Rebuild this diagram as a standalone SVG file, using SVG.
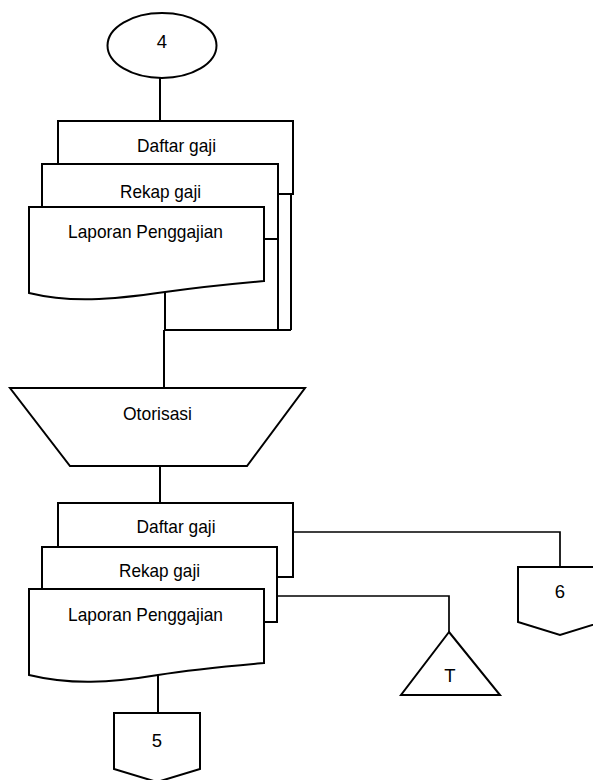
<svg xmlns="http://www.w3.org/2000/svg" width="593" height="780" viewBox="0 0 593 780">
<style>
.s{fill:#fff;stroke:#000;stroke-width:2;stroke-linejoin:miter}
.l{fill:none;stroke:#000;stroke-width:2}
.t{font-family:"Liberation Sans",Arial,sans-serif;font-size:18.5px;fill:#000;text-anchor:middle}
</style>
<rect width="593" height="780" fill="#fff"/>
<g id="connectors">
<path class="l" d="M160,78 V121"/>
<path class="l" d="M291,194 V330 M278,239 V330 M165,292 V330 H291"/>
<path class="l" d="M164,330 V388"/>
<path class="l" d="M160,466 V503"/>
<path class="l" d="M293,532 H560 V567" style="stroke-width:1.7"/>
<path class="l" d="M277,596 H449 V632" style="stroke-width:1.7"/>
<path class="l" d="M158,675 V713"/>
</g>
<g id="start4">
<ellipse class="s" cx="162" cy="45.5" rx="54.5" ry="32.5"/>
<text class="t" x="162" y="48">4</text>
</g>
<g id="stack1">
<g id="doc1-daftar">
<path class="l" d="M58,164 V121 H293 V194 H278"/>
<text class="t" x="176.5" y="152" textLength="79" lengthAdjust="spacingAndGlyphs">Daftar gaji</text>
</g>
<g id="doc1-rekap">
<path class="l" d="M42,207 V164 H278 V239 H264"/>
<text class="t" x="160.5" y="198" textLength="81" lengthAdjust="spacingAndGlyphs">Rekap gaji</text>
</g>
<g id="doc1-laporan">
<path class="s" d="M29,207 H264 V281 C230,284 200,287 165,292 C110,300 70,303 29,293 Z"/>
<text class="t" x="145.5" y="238" textLength="155" lengthAdjust="spacingAndGlyphs">Laporan Penggajian</text>
</g>
</g>
<g id="otorisasi">
<path class="s" d="M10,388 H305 L247,466 H70 Z"/>
<text class="t" x="157.5" y="420" textLength="69" lengthAdjust="spacingAndGlyphs">Otorisasi</text>
</g>
<g id="stack2">
<g id="doc2-daftar">
<path class="l" d="M58,547 V503 H293 V577 H278"/>
<text class="t" x="176" y="533" textLength="79" lengthAdjust="spacingAndGlyphs">Daftar gaji</text>
</g>
<g id="doc2-rekap">
<path class="l" d="M42,589 V547 H277 V622 H264"/>
<text class="t" x="159.5" y="577" textLength="81" lengthAdjust="spacingAndGlyphs">Rekap gaji</text>
</g>
<g id="doc2-laporan">
<path class="s" d="M29,589 H264 V663 C230,666 195,669 158,675 C110,683 70,685 29,675 Z"/>
<text class="t" x="145.5" y="621" textLength="155" lengthAdjust="spacingAndGlyphs">Laporan Penggajian</text>
</g>
</g>
<g id="offpage5">
<path class="s" d="M114,713 H200 V769 L157,782 L114,769 Z"/>
<text class="t" x="157" y="747">5</text>
</g>
<g id="offpage6">
<path class="s" d="M518,567 H602 V622 L560,635 L518,622 Z"/>
<text class="t" x="560" y="598">6</text>
</g>
<g id="terminalT">
<path class="s" d="M449,632 L500,695 H401 Z"/>
<text class="t" x="450" y="682">T</text>
</g>
</svg>
